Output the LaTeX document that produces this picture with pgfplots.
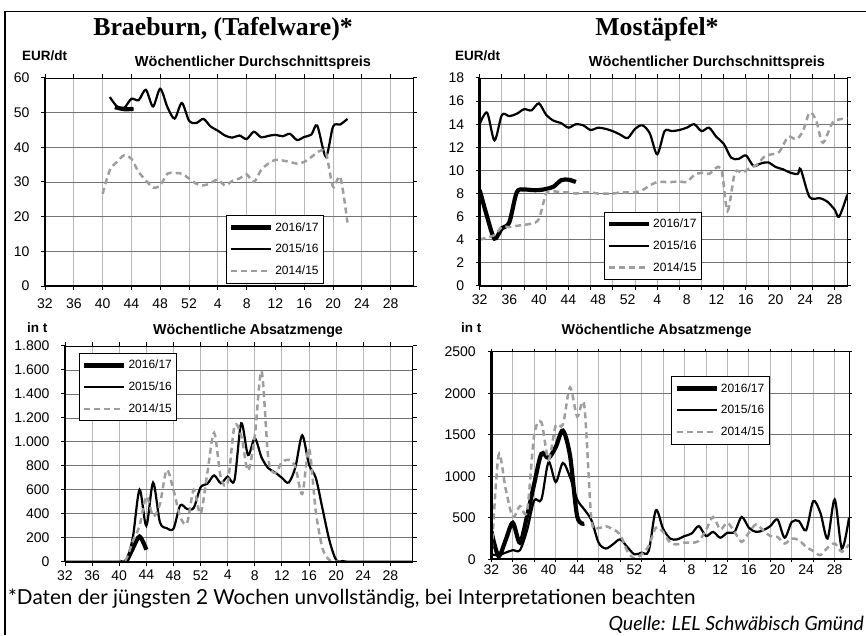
\documentclass[border=0pt]{standalone}
\usepackage{pgfplots}
\pgfplotsset{compat=1.18}
\usepackage{fontspec}
\setmainfont{Liberation Sans}
\newfontfamily\titlefont{Liberation Serif}
\newfontfamily\footfont{Lato}

\pgfplotsset{
 panel/.style={
  scale only axis, anchor=south west,
  xmin=0, ymin=0,
  axis line style={black, line width=0.8pt},
  tick style={black, line width=1pt},
  tick align=outside,
  major tick length=4pt,
  grid=major,
  x grid style={color=black!28, line width=0.8pt},
  y grid style={color=black!55, line width=0.8pt},
  ticklabel style={font=\fontsize{14}{16}\selectfont},
  /pgf/number format/assume math mode=true,
  yticklabel style={xshift=-8pt},
  legend style={font=\fontsize{12}{14}\selectfont, draw=black, line width=0.8pt,
    inner xsep=3pt, inner ysep=5pt, row sep=7.5pt, anchor=north west, cells={anchor=west}},
  legend image code/.code={\draw[#1] (0pt,0pt) -- (40pt,0pt);},
  after end axis/.code={
   \draw[black, line width=2.5pt] (rel axis cs:0,0) -- (rel axis cs:0,1);
   \draw[black, line width=2pt] (rel axis cs:0,0) -- (rel axis cs:1,0);
  },
 },
 leftx/.style={xtick={0,4,...,48}, xticklabels={32,36,40,44,48,52,4,8,12,16,20,24,28}},
 rightx/.style={xtick={0,3,...,48}, xticklabels={},
   extra x ticks={0,4,...,48}, extra x tick labels={32,36,40,44,48,52,4,8,12,16,20,24,28},
   extra x tick style={grid=none, major tick length=0pt}},
 s17/.style={black, line width=4.2pt, smooth, tension=0.5},
 s16/.style={black, line width=2.2pt, smooth, tension=0.5},
 s15/.style={color=black!38, line width=2.5pt, dash pattern=on 6pt off 4pt, smooth, tension=0.5},
}

\begin{document}
\begin{tikzpicture}
% frame
\draw[black, line width=1.6pt] (5pt,0pt) -- (5pt,623.3pt) -- (870pt,623.3pt);

% titles
\node[anchor=base, inner sep=0pt] at (223pt,599pt) {\titlefont\bfseries\fontsize{25.8}{30}\selectfont Braeburn, (Tafelware)*};
\node[anchor=base, inner sep=0pt] at (657pt,599pt) {\titlefont\bfseries\fontsize{25.8}{30}\selectfont Mostäpfel*};

\node[anchor=base west, inner sep=0pt] at (22pt,574pt) {\bfseries\fontsize{13.5}{16}\selectfont EUR/dt};
\node[anchor=base, inner sep=0pt] at (253pt,568pt) {\bfseries\fontsize{14.5}{17}\selectfont Wöchentlicher Durchschnittspreis};
\node[anchor=base west, inner sep=0pt] at (455pt,574pt) {\bfseries\fontsize{13.5}{16}\selectfont EUR/dt};
\node[anchor=base, inner sep=0pt] at (707pt,568pt) {\bfseries\fontsize{14.5}{17}\selectfont Wöchentlicher Durchschnittspreis};

\node[anchor=base west, inner sep=0pt] at (27pt,303pt) {\bfseries\fontsize{13.5}{16}\selectfont in t};
\node[anchor=base, inner sep=0pt] at (248pt,301pt) {\bfseries\fontsize{14.3}{17}\selectfont Wöchentliche Absatzmenge};
\node[anchor=base west, inner sep=0pt] at (461pt,303pt) {\bfseries\fontsize{13.5}{16}\selectfont in t};
\node[anchor=base, inner sep=0pt] at (656.5pt,301pt) {\bfseries\fontsize{14.3}{17}\selectfont Wöchentliche Absatzmenge};

\node[anchor=base west, inner sep=0pt] at (8pt,31pt) {\footfont\fontsize{20.7}{24}\selectfont *Daten der jüngsten 2 Wochen unvollständig, bei Interpretationen beachten};
\node[anchor=base east, inner sep=0pt] at (864pt,5pt) {\footfont\itshape\fontsize{19.5}{22}\selectfont Quelle: LEL Schwäbisch Gmünd};

% ---------- top left: Braeburn price
\begin{axis}[panel, leftx, at={(45pt,349pt)}, width=368pt, height=208pt,
  xmax=51.1, ymax=60, ytick={0,10,...,60},
  xticklabel style={yshift=-5pt},
  legend style={at={(0.491,0.341)}}]
\addplot[s17] coordinates {(9.7,51.6)(11,51.0)(12.3,51.1)};
\addlegendentry{2016/17}
\addplot[s16] coordinates {(9,54.5)(10,51.8)(11,51.4)(12,54.0)(13,53.6)(14,56.6)(15,51.8)(16,56.9)(17,51.6)(18,48.3)(19,52.8)(20,47.7)(21,47.0)(22,48.2)(23,46.0)(24,44.8)(25,43.4)(26,42.8)(27,43.4)(28,42.4)(29,44.5)(30,42.9)(31,43.3)(32,43.6)(33,43.2)(34,43.9)(35,42.1)(36,43.0)(37,43.7)(37.8,46.3)(39,37.3)(40,46.0)(41,46.6)(42,48.2)};
\addlegendentry{2015/16}
\addplot[s15] coordinates {(8,26.6)(9,33.4)(10,35.8)(11,37.7)(12,36.7)(13,32.9)(14,30.5)(15,28.4)(16,29.0)(17,32.4)(18,32.6)(19,32.4)(20,31.0)(21,29.5)(22,29.0)(23,29.7)(24,30.7)(25,29.0)(26,30.3)(27,31.0)(28,32.2)(29,30.0)(30,33.4)(31,35.3)(32,36.4)(33,36.2)(34,35.8)(35,35.3)(36,35.8)(37,37.2)(38,38.8)(39,38.5)(40,28.6)(41,31.4)(42,18.3)};
\addlegendentry{2014/15}
\end{axis}

% ---------- top right: Mostaepfel price
\begin{axis}[panel, rightx, at={(479.7pt,349pt)}, width=367.6pt, height=208pt,
  xmax=49.7, ymax=18, ytick={0,2,...,18},
  xticklabel style={yshift=-5pt},
  legend style={at={(0.337,0.357)}}]
\addplot[s17] coordinates {(0,8.3)(1,6.0)(2,4.1)(3,5.0)(4,5.5)(5,8.1)(6,8.35)(7,8.3)(8,8.3)(9,8.4)(10,8.6)(11,9.15)(12,9.2)(13,9.0)};
\addlegendentry{2016/17}
\addplot[s16] coordinates {(0,14.0)(1,15.0)(2,12.6)(3,14.8)(4,14.7)(5,14.9)(6,15.3)(7,15.2)(8,15.8)(9,14.8)(10,14.3)(11,14.1)(12,13.7)(13,14.0)(14,13.9)(15,13.5)(16,13.7)(17,13.6)(18,13.4)(19,13.1)(20,12.8)(21,13.6)(22,13.9)(23,13.2)(24,11.4)(25,13.4)(26,13.4)(27,13.5)(28,13.7)(29,14.0)(30,13.4)(31,13.7)(32,12.9)(33,12.3)(34,11.1)(35,11.0)(36,11.3)(37,10.4)(38,10.6)(39,10.7)(40,10.3)(41,10.1)(42,9.8)(43,9.7)(43.4,10.1)(44.6,7.7)(46,7.6)(47,7.3)(48,6.6)(48.6,6.0)(49.7,7.9)};
\addlegendentry{2015/16}
\addplot[s15] coordinates {(0,4.0)(1,4.2)(2,4.4)(3,5.1)(4,5.1)(5,5.2)(6,5.3)(7,5.4)(8,5.8)(9,8.0)(10,8.2)(11,8.1)(12,8.1)(13,8.0)(14,8.1)(15,8.1)(16,8.0)(17,8.0)(18,8.0)(19,8.1)(20,8.1)(21,8.1)(22,8.3)(23,8.7)(24,9.0)(25,9.0)(26,9.0)(27,9.05)(28,9.0)(29,9.6)(30,9.8)(31,9.7)(32.6,10.2)(33.5,6.5)(34.5,9.8)(35.5,9.8)(36.5,10.2)(37.5,10.5)(38.5,11.2)(39.5,11.4)(40.5,11.6)(41.7,12.9)(42.8,12.7)(43.7,13.4)(44.6,15.0)(45.5,14.3)(46.4,12.4)(47.8,14.2)(49.7,14.5)};
\addlegendentry{2014/15}
\end{axis}

% ---------- bottom left: Braeburn quantity
\begin{axis}[panel, leftx, at={(65pt,73.3pt)}, width=347.7pt, height=215.7pt,
  xmax=51.3, ymax=1800, ytick={0,200,...,1800},
  yticklabels={0,200,400,600,800,1.000,1.200,1.400,1.600,1.800},
  xticklabel style={yshift=-1pt},
  legend style={at={(0.040,0.968)}}]
\addplot[s17] coordinates {(8,0)(9,0)(10,110)(11,210)(12,100)};
\addlegendentry{2016/17}
\addplot[s16] coordinates {(0,0)(4,0)(8,0)(9,10)(10,200)(11,600)(12,300)(13,660)(14,330)(15,280)(16,275)(17,470)(18,440)(19,450)(20,620)(21,650)(22,720)(23,655)(24,710)(25,680)(26,1155)(27,890)(28,1030)(29,870)(30,780)(31,745)(32,700)(33,660)(34,790)(35,1055)(36,810)(37,700)(38,440)(39,180)(40,15)(41,5)(42,0)(46,0)(51.3,0)};
\addlegendentry{2015/16}
\addplot[s15] coordinates {(0,0)(4,0)(8,0)(9,20)(10,170)(11,300)(12,545)(13,380)(14,480)(15,765)(16,600)(17,375)(18,320)(19,600)(20,400)(21,740)(22,1075)(23,700)(24,660)(25,1130)(26,1050)(27,760)(28,1050)(29,1590)(30,860)(31,740)(32,830)(33,850)(34,790)(35,565)(36,945)(37,420)(38,110)(39,15)(40,0)(45,0)(51.3,0)};
\addlegendentry{2014/15}
\end{axis}

% ---------- bottom right: Mostaepfel quantity
\begin{axis}[panel, rightx, at={(491.3pt,75.7pt)}, width=357.7pt, height=207.6pt,
  xmax=50, ymax=2500, ytick={0,500,...,2500},
  yticklabels={0,500,1000,1500,2000,2500},
  major tick length=3pt,
  yticklabel style={xshift=-1pt},
  xticklabel style={yshift=-2pt},
  legend style={at={(0.503,0.883)}}]
\addplot[s17] coordinates {(0,340)(1,40)(2,230)(3,440)(4,200)(5,520)(6,910)(7,1270)(8,1220)(9,1350)(10,1550)(11,1250)(12,520)(13,430)};
\addlegendentry{2016/17}
\addplot[s16] coordinates {(0,60)(1,50)(2,80)(3,110)(4,110)(5,350)(6,710)(7,720)(8,1170)(9,930)(10,1160)(11,990)(12,720)(13,600)(14,470)(15,200)(16,130)(17,180)(18,240)(19,150)(20,60)(21,80)(22,100)(23,590)(24,370)(25,250)(26,240)(27,280)(28,310)(29,400)(30,280)(31,330)(32,260)(33,320)(34,330)(35,510)(36,380)(37,330)(38,350)(39,400)(40,480)(41,260)(42,450)(43,460)(44,350)(45,700)(46,560)(47,250)(48,720)(49,130)(50,500)};
\addlegendentry{2015/16}
\addplot[s15] coordinates {(0,0)(1,1250)(2,850)(3,510)(4,640)(5,580)(6,1500)(7,1650)(8,1200)(9,1610)(10,1620)(11,2070)(12,1720)(13,1850)(14,480)(15,380)(16,400)(17,360)(18,300)(19,100)(20,10)(21,60)(22,160)(23,380)(24,330)(25,200)(26,180)(27,200)(28,200)(29,220)(30,350)(31,510)(32,360)(33,440)(34,330)(35,210)(36,320)(37,420)(38,350)(39,280)(40,270)(41,190)(42,250)(43,230)(44,150)(45,100)(46,50)(47,140)(48,190)(49,90)(50,180)};
\addlegendentry{2014/15}
\end{axis}

\pgfresetboundingbox
\path[use as bounding box] (0pt,0pt) rectangle (866pt,635pt);
\end{tikzpicture}
\end{document}
